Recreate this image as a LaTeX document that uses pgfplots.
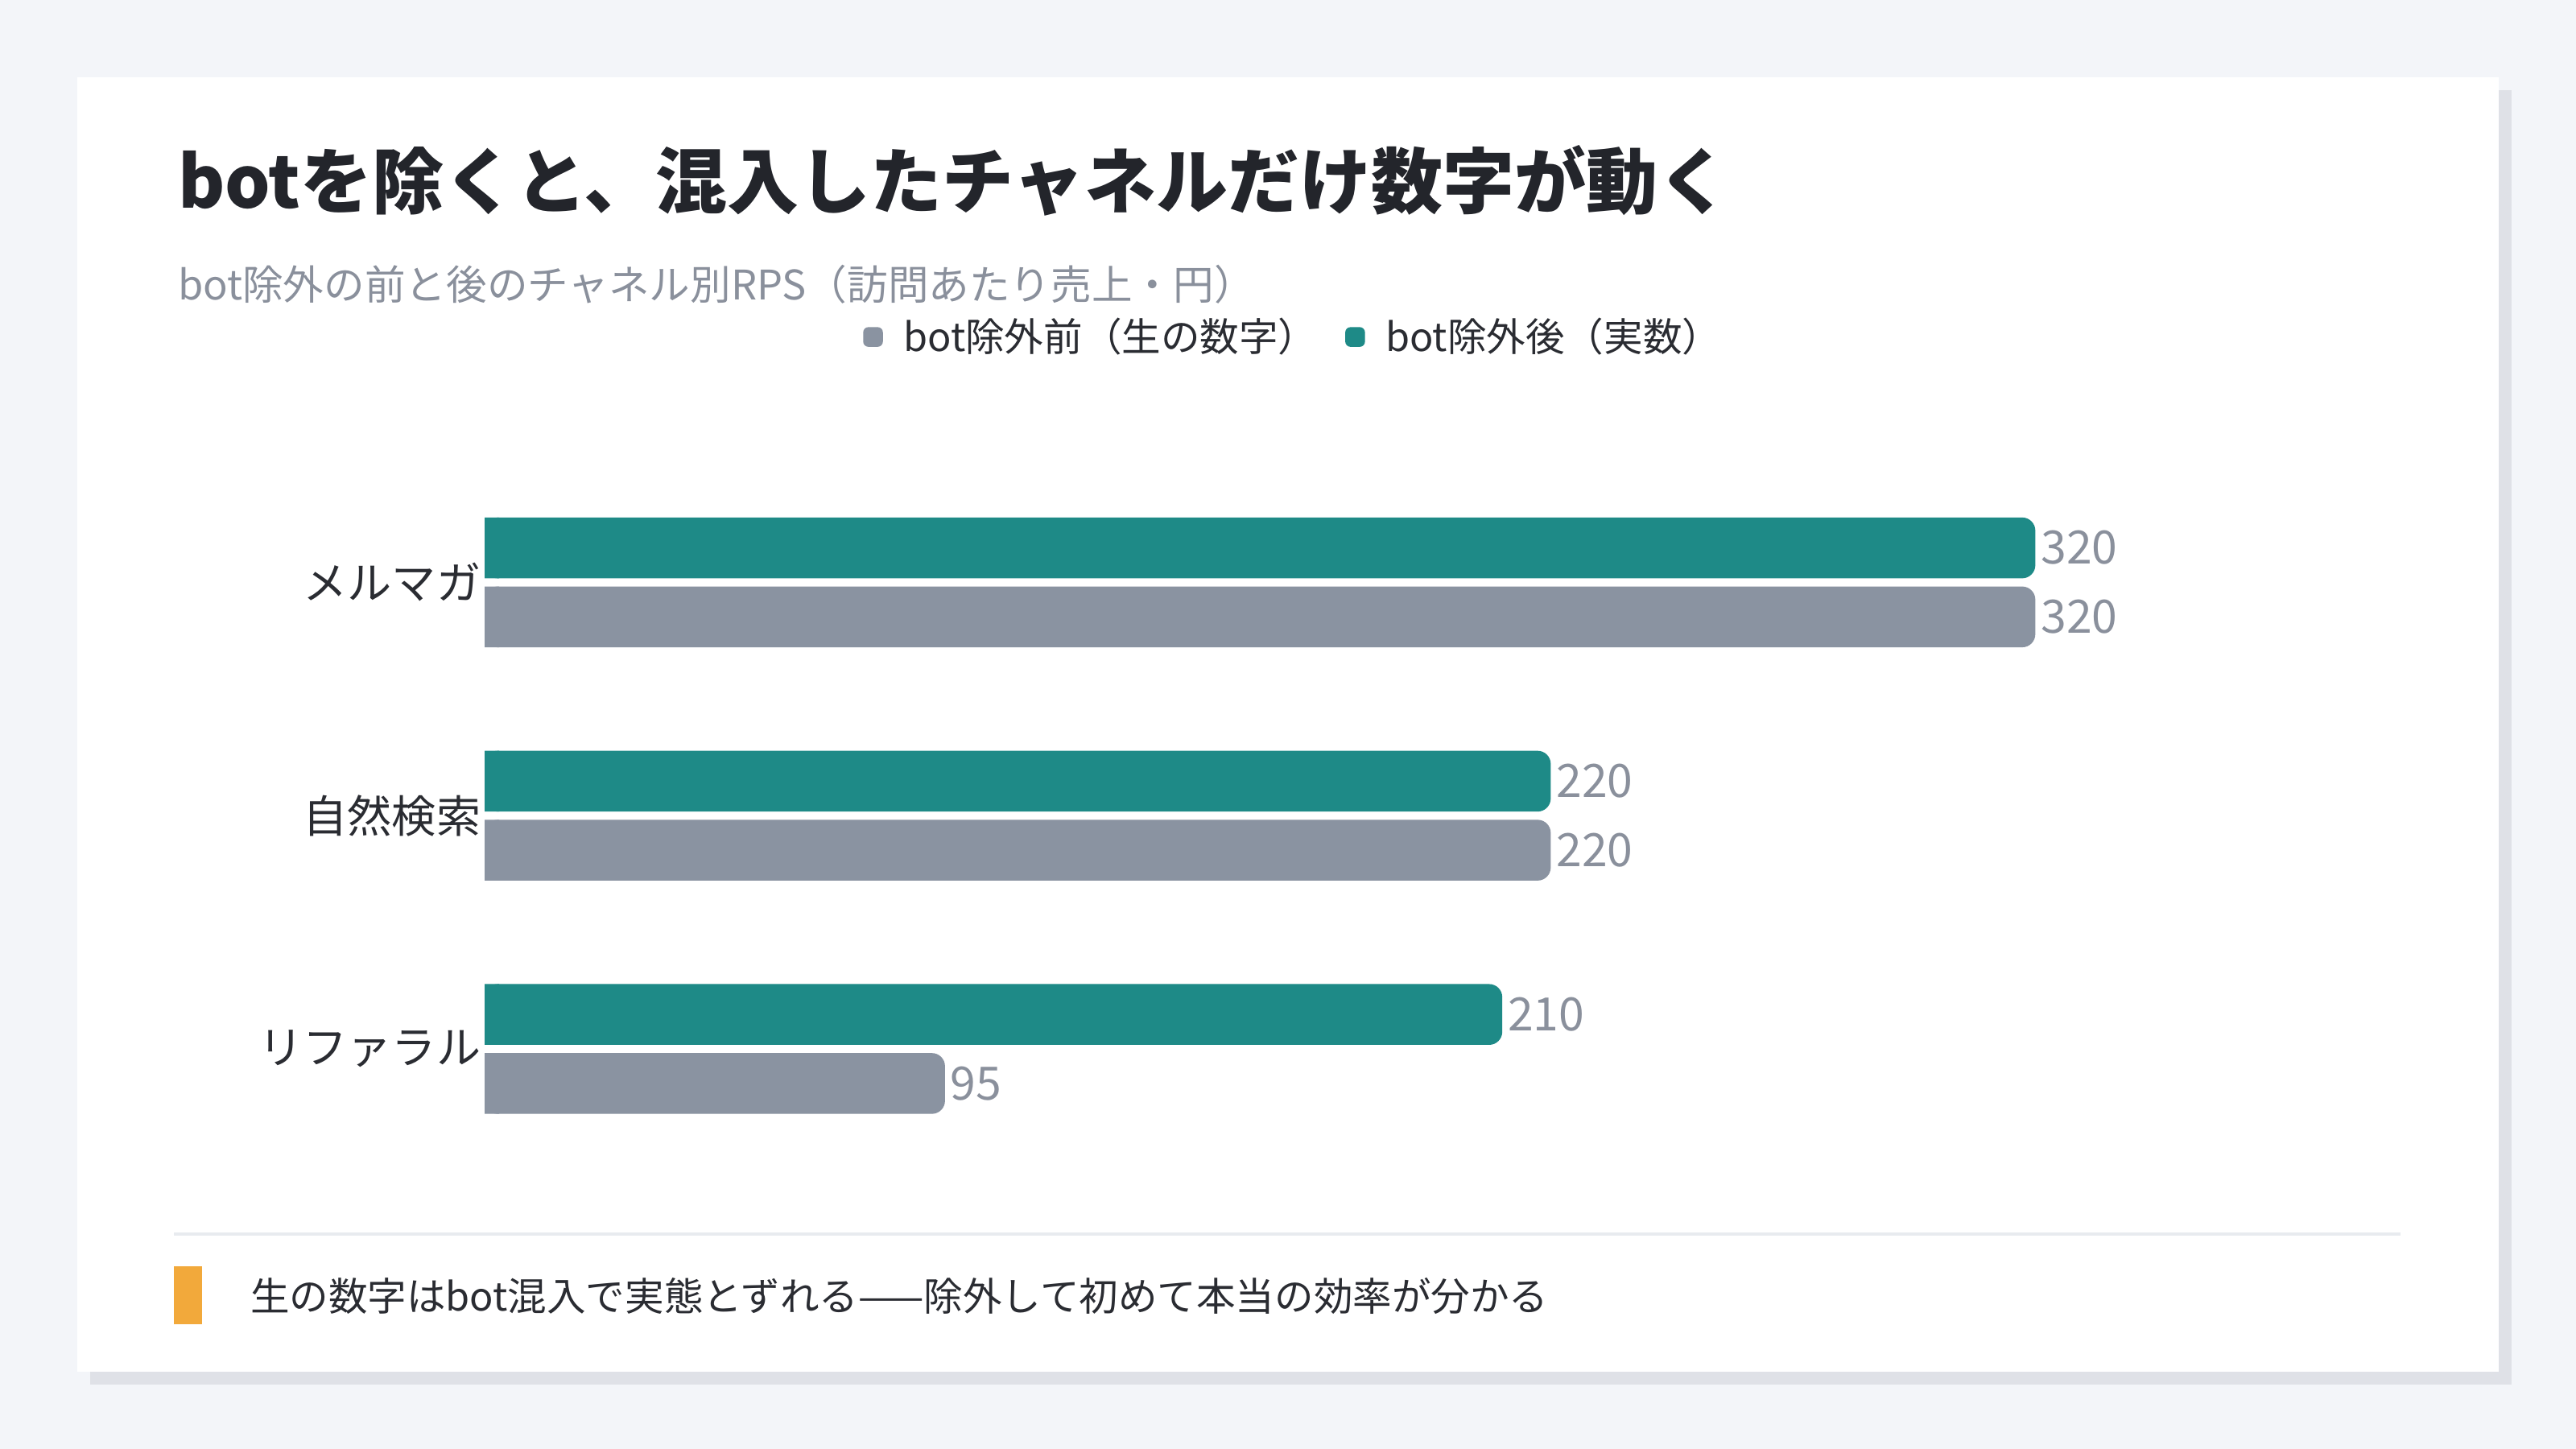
\documentclass[border=0pt]{standalone}
\usepackage{fontspec}
\setmainfont{Noto Sans CJK JP}
\usepackage{pgfplots}
\usepackage{pgfplotstable}
\pgfplotsset{compat=1.18}

\definecolor{pagebg}{HTML}{F3F5F9}
\definecolor{shadow}{HTML}{DFE1E7}
\definecolor{titlec}{HTML}{23252B}
\definecolor{subc}{HTML}{8A909C}
\definecolor{textc}{HTML}{2A2C32}
\definecolor{bargray}{HTML}{8A93A1}
\definecolor{barteal}{HTML}{1E8A87}
\definecolor{numc}{HTML}{8A909C}
\definecolor{rulec}{HTML}{E8EBEF}
\definecolor{accent}{HTML}{F2A93B}

% RPS by channel, 0 = bottom row
\pgfplotstableread{
y before after
0 95 210
1 220 220
2 320 320
}\rps

\begin{document}
\begin{tikzpicture}
\begin{scope}[x=0.5pt,y=-0.5pt]
  \fill[pagebg] (0,0) rectangle (1568,882);
  \fill[shadow] (55,55) rectangle (1529,843);
  \fill[white] (47,47) rectangle (1521,835);
  \node[anchor=west,inner sep=0,text=titlec,font=\fontsize{21.8pt}{26pt}\selectfont\bfseries]
    at (108,110) {botを除くと、混入したチャネルだけ数字が動く};
  \node[anchor=west,inner sep=0,text=subc,font=\fontsize{12.4pt}{15pt}\selectfont]
    at (108,173) {bot除外の前と後のチャネル別RPS（訪問あたり売上・円）};
  \draw[rulec,line width=1pt] (106,751) -- (1461,751);
  \fill[accent] (106,771) rectangle (123,806);
  \node[anchor=west,inner sep=0,text=textc,font=\fontsize{11.9pt}{14pt}\selectfont]
    at (152,789) {生の数字はbot混入で実態とずれる——除外して初めて本当の効率が分かる};
\end{scope}

\begin{axis}[
    at={(147.5pt,-354.75pt)}, anchor=south west,
    scale only axis,
    width=583pt, height=213pt,
    xbar,
    bar width=18.5pt,
    xmin=0, xmax=395.3,
    ymin=-0.5, ymax=2.5,
    xtick=\empty,
    ytick={0,1,2},
    yticklabels={リファラル,自然検索,メルマガ},
    yticklabel style={font=\fontsize{13.5pt}{16pt}\selectfont, text=textc, inner sep=1pt},
    axis line style={draw=none},
    major tick length=0pt,
    clip=false,
    point meta=x,
    /pgf/number format/assume math mode=true,
    every node near coord/.append style={font=\fontsize{14pt}{16pt}\selectfont, text=numc, anchor=west, inner sep=1.5pt},
    legend columns=2,
    legend style={at={(0.4233,1.184)}, anchor=center, draw=none, fill=none,
      font=\fontsize{11.9pt}{14pt}\selectfont, text=textc,
      /tikz/every odd column/.append style={column sep=4.3pt},
      /tikz/every even column/.append style={column sep=6.5pt}},
    legend image code/.code={\fill[#1,draw=none,rounded corners=1.6pt] (0pt,-3pt) rectangle (6pt,3pt);},
]
\addplot[fill=bargray, draw=none, bar shift=-10.5pt, rounded corners=4pt, nodes near coords]
  table[x=before,y=y]{\rps};
\addlegendentry{bot除外前（生の数字）}
\addplot[fill=barteal, draw=none, bar shift=10.5pt, rounded corners=4pt, nodes near coords]
  table[x=after,y=y]{\rps};
\addlegendentry{bot除外後（実数）}
% square left ends of the bars
\addplot[forget plot, fill=bargray, draw=none, bar shift=-10.5pt,
  x filter/.expression={min(x,3)}]
  table[x=before,y=y]{\rps};
\addplot[forget plot, fill=barteal, draw=none, bar shift=10.5pt,
  x filter/.expression={min(x,3)}]
  table[x=after,y=y]{\rps};
\end{axis}
\end{tikzpicture}
\end{document}
